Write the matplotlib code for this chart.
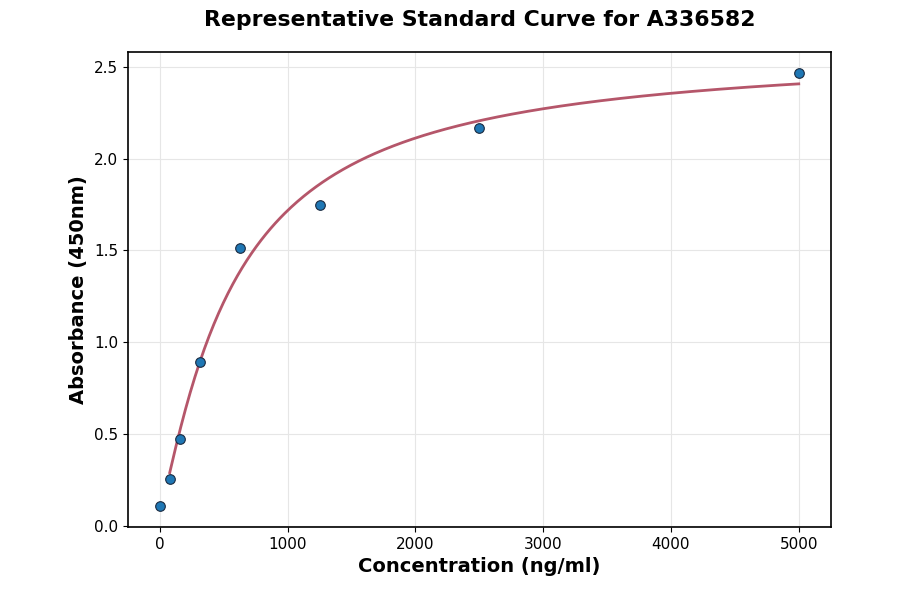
import numpy as np
import matplotlib
matplotlib.use("Agg")
import matplotlib.pyplot as plt

conc = np.array([0, 78.125, 156.25, 312.5, 625, 1250, 2500, 5000])
absorb = np.array([0.107, 0.253, 0.472, 0.890, 1.514, 1.750, 2.168, 2.465])


def four_pl(x, p):
    a, b, c, d = p
    return d + (a - d) / (1 + (np.maximum(x, 1e-9) / c) ** b)


# simple Levenberg-Marquardt fit of a 4PL model to the standards
p = np.array([0.05, 1.0, 800.0, 2.7])
lam = 1e-3
for _ in range(500):
    r = absorb - four_pl(conc, p)
    J = np.zeros((len(conc), 4))
    for k in range(4):
        dp = np.zeros(4)
        dp[k] = 1e-6 * max(abs(p[k]), 1.0)
        J[:, k] = (four_pl(conc, p + dp) - four_pl(conc, p)) / dp[k]
    A = J.T @ J
    g = J.T @ r
    step = np.linalg.solve(A + lam * np.diag(np.diag(A)), g)
    p_new = p + step
    if np.sum((absorb - four_pl(conc, p_new)) ** 2) < np.sum(r ** 2):
        p = p_new
        lam *= 0.5
    else:
        lam *= 4

xs = np.linspace(conc[conc > 0].min(), conc.max(), 400)

fig, ax = plt.subplots(figsize=(9, 5.94), dpi=100)
fig.subplots_adjust(left=0.142, right=0.923, top=0.912, bottom=0.113)
ax.plot(xs, four_pl(xs, p), color="#b5566a", lw=2, zorder=2)
ax.scatter(conc, absorb, s=48, color="#1f77b4", edgecolor="#1a2a40", linewidth=0.8, zorder=3)
ax.set_ylim(-0.007, 2.58)
ax.grid(True, color="#e6e6e6", lw=0.8)
ax.set_axisbelow(True)
for s in ax.spines.values():
    s.set_linewidth(1.2)
ax.tick_params(labelsize=11)
ax.set_title("Representative Standard Curve for A336582", fontsize=15.8, fontweight="bold", pad=19)
ax.set_xlabel("Concentration (ng/ml)", fontsize=14, fontweight="bold", labelpad=4)
ax.set_ylabel("Absorbance (450nm)", fontsize=14, fontweight="bold")
fig.savefig("out.png", dpi=100)
